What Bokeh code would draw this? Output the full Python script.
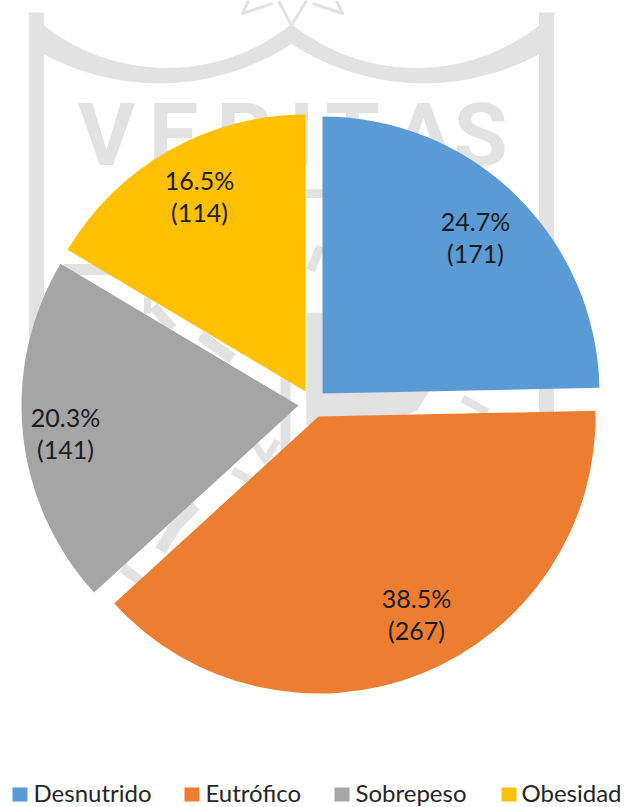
import math
from bokeh.plotting import figure
from bokeh.models import Range1d
from bokeh.core.properties import value
from bokeh.embed import file_html
from bokeh.resources import INLINE

# Data
categories = ["Desnutrido", "Eutrófico", "Sobrepeso", "Obesidad"]
counts = [171, 267, 141, 114]
percent_labels = ["24.7%", "38.5%", "20.3%", "16.5%"]
count_labels = ["(171)", "(267)", "(141)", "(114)"]
colors = ["#5B9BD5", "#ED7D31", "#A5A5A5", "#FFC000"]

# Layout (window pixels, y downward)
W, H = 627, 807
apex_x = [322, 318, 298, 305]
apex_y = [393, 416, 405, 391]
radius = 277
label_x = [475, 416, 65, 199]
label_pct_y = [220, 597, 416, 179]
label_cnt_y = [252, 629, 448, 211]
swatch_x = [12, 184, 334, 501]
legend_text_x = [33, 205, 355, 521]
swatch_top, swatch_bottom = 787, 801
legend_mid = 792
WM = "#E2E2E2"
FONT = "Lato"

def Y(v):
    return H - v

def arc3(a, b, c, n=40):
    """Sample the circle through three pixel points, from a to c."""
    ax, ay = a; bx, by = b; cx, cy = c
    d = 2 * (ax * (by - cy) + bx * (cy - ay) + cx * (ay - by))
    ux = ((ax**2 + ay**2) * (by - cy) + (bx**2 + by**2) * (cy - ay) + (cx**2 + cy**2) * (ay - by)) / d
    uy = ((ax**2 + ay**2) * (cx - bx) + (bx**2 + by**2) * (ax - cx) + (cx**2 + cy**2) * (bx - ax)) / d
    r = math.hypot(ax - ux, ay - uy)
    t0 = math.atan2(ay - uy, ax - ux)
    t1 = math.atan2(cy - uy, cx - ux)
    return [(ux + r * math.cos(t0 + (t1 - t0) * k / n), uy + r * math.sin(t0 + (t1 - t0) * k / n))
            for k in range(n + 1)]

p = figure(width=W, height=H, output_backend="svg", toolbar_location=None,
           x_range=Range1d(0, W), y_range=Range1d(0, H),
           min_border=0, outline_line_color=None, background_fill_color="white",
           border_fill_color="white")
p.axis.visible = False
p.grid.visible = False

# Watermark behind the pie
left_arc = arc3((28, 12), (147, 67), (291, 24)) + arc3((291, 43), (147, 82), (43, 53))
xs = [[x for x, _ in left_arc], [582 - x for x, _ in left_arc]]
ys = [[Y(y) for _, y in left_arc], [Y(y) for _, y in left_arc]]
p.patches(xs, ys, fill_color=WM, line_color=WM, line_width=1)

strips = [
    ([36, 36], [12, 420], 15), ([546, 546], [12, 420], 15),
    ([314, 314], [312, 425], 16), ([306, 325], [193, 193], 9),
    ([462, 487], [398, 412], 8), ([285, 285], [377, 450], 10),
    ([63, 110], [269, 269], 11), ([147, 147], [297, 313], 7),
    ([153, 172], [306, 328], 10), ([200, 232], [335, 358], 11),
    ([122, 143], [567, 583], 10), ([160, 175, 195], [550, 525, 505], 12),
    ([232, 250], [470, 480], 8), ([250, 265, 277], [437, 460, 440], 7),
    ([310, 320], [270, 246], 9),
    ([291, 278], [25, 0], 3), ([291, 306], [25, 0], 3),
    ([272, 242, 248], [3, 13, 0], 3), ([312, 342, 336], [3, 13, 0], 3),
]
for sx, sy, sw in strips:
    p.line(sx, [Y(v) for v in sy], line_color=WM, line_width=sw, line_join="round")

band = [(306, 393), (432, 385), (417, 410), (395, 418), (306, 418)]
p.patch([x for x, _ in band], [Y(y) for _, y in band], fill_color=WM, line_color=None)

for letter, lx in zip("VERITAS", [106, 173, 244, 301, 352, 423, 480]):
    p.text([lx], [Y(134)], text=[letter], text_align="center", text_baseline="middle",
           text_font=value("Roboto"), text_font_style="bold",
           text_font_size="88px", text_color=WM)

# Pie
total = sum(counts)
acc = 0.0
for i, c in enumerate(counts):
    a0 = acc / total * 2 * math.pi
    acc += c
    a1 = acc / total * 2 * math.pi
    p.wedge(x=[apex_x[i]], y=[Y(apex_y[i])], radius=radius,
            start_angle=math.pi / 2 - a0, end_angle=math.pi / 2 - a1, direction="clock",
            fill_color=colors[i], line_color=None)

# Data labels
for i in range(4):
    for txt, ly in ((percent_labels[i], label_pct_y[i]), (count_labels[i], label_cnt_y[i])):
        p.text([label_x[i]], [Y(ly)], text=[txt], text_align="center", text_baseline="middle",
               text_font=value(FONT), text_font_size="25px", text_color="#1c1c1c")

# Legend
for i in range(4):
    p.quad(left=[swatch_x[i]], right=[swatch_x[i] + 15], top=[Y(swatch_top)], bottom=[Y(swatch_bottom)],
           fill_color=colors[i], line_color=None)
    p.text([legend_text_x[i]], [Y(legend_mid)], text=[categories[i]], text_align="left",
           text_baseline="middle", text_font=value(FONT), text_font_size="24px",
           text_color="#262626")

open("out.html", "w").write(file_html(p, INLINE))
